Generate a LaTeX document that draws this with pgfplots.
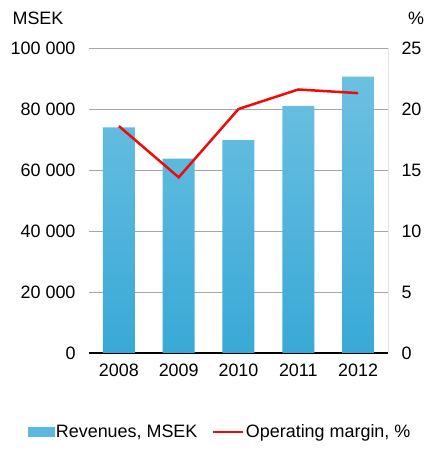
\documentclass[border=0pt]{standalone}
\usepackage{fontspec}
\setmainfont{Liberation Sans}
\usepackage{pgfplots}
\pgfplotsset{compat=1.18}
\definecolor{barTop}{HTML}{6CC0E2}
\definecolor{barBot}{HTML}{38A9D6}
\definecolor{gridgray}{HTML}{A6A6A6}
\definecolor{lineRed}{HTML}{F00A0A}
\begin{document}
\begin{tikzpicture}[font=\fontsize{18}{21}\selectfont]
\useasboundingbox (-89bp,-108bp) rectangle (345bp,353bp);
\begin{axis}[
  at={(0,0)}, anchor=south west,
  width=299bp, height=305bp, scale only axis,
  xmin=-0.5, xmax=4.5, ymin=0, ymax=100000,
  xtick={0,1,2,3,4}, xticklabels={2008,2009,2010,2011,2012},
  ytick={0,20000,40000,60000,80000,100000},
  ymajorgrids, grid style={gridgray, line width=0.8bp},
  separate axis lines,
  axis x line*=bottom, axis y line*=left,
  x axis line style={black, line width=2bp, -},
  y axis line style={draw=none},
  major tick length=0pt,
  scaled y ticks=false,
  /pgf/number format/assume math mode=true,
  yticklabel style={/pgf/number format/.cd, fixed, 1000 sep={\ }, /tikz/.cd, xshift=-10bp},
  xticklabel style={yshift=-7bp},
]
\addplot[ybar, bar width=32bp, draw=none, top color=barTop, bottom color=barBot]
  coordinates {(0,74000) (1,63700) (2,69800) (3,81000) (4,90600)};
\end{axis}
\begin{axis}[
  at={(0,0)}, anchor=south west,
  width=299bp, height=305bp, scale only axis,
  xmin=-0.5, xmax=4.5, ymin=0, ymax=25,
  separate axis lines,
  axis x line=none, axis y line*=right,
  y axis line style={draw=black!10, line width=0.8bp, -},
  ytick={0,5,10,15,20,25},
  major tick length=0pt,
  /pgf/number format/assume math mode=true,
  yticklabel style={xshift=10bp},
  legend columns=2,
  legend style={at={(0.438,-0.259)}, anchor=center, draw=none, fill=none,
    /tikz/every even column/.append style={column sep=12bp},
    nodes={inner sep=2bp}},
]
\addlegendimage{legend image code/.code={\fill[barTop!70!barBot] (-3bp,-4.5bp) rectangle (23bp,4.5bp);}}
\addlegendentry{Revenues, MSEK}
\addplot[lineRed, line width=2.5bp, mark=none,
  legend image code/.code={\draw[lineRed, line width=2.5bp] (0bp,0bp) -- (30bp,0bp);}]
  coordinates {(0,18.6) (1,14.4) (2,20.0) (3,21.6) (4,21.3)};
\addlegendentry{Operating margin, \%}
\end{axis}
\node at (-51bp,335bp) {MSEK};
\node at (327bp,335bp) {\%};
\end{tikzpicture}
\end{document}
